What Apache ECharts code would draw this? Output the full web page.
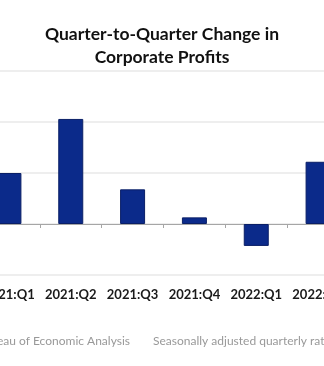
<!DOCTYPE html>
<html>
<head>
<meta charset="utf-8">
<script src="https://cdn.jsdelivr.net/npm/echarts@6/dist/echarts.min.js"></script>
<style>
html,body{margin:0;padding:0;background:#fff;}
#chart{width:324px;height:366px;}
</style>
</head>
<body>
<div id="chart"></div>
<script>
var categories = ['2021:Q1', '2021:Q2', '2021:Q3', '2021:Q4', '2022:Q1', '2022:Q2'];
var changeValues = [5.0, 10.3, 3.4, 0.65, -2.15, 6.1];
var yTicks = [-5, 0, 5, 10, 15];
var titleLines = ['Quarter-to-Quarter Change in', 'Corporate Profits'];
var sourceText = 'Source: U.S. Bureau of Economic Analysis';
var noteText = 'Seasonally adjusted quarterly rates';

var chart = echarts.init(document.getElementById('chart'));
var font = 'Lato, "Open Sans", sans-serif';
chart.setOption({
  animation: false,
  backgroundColor: '#fff',
  grid: { left: -22, right: -25, top: 71, bottom: 91, containLabel: false, outerBoundsMode: 'none' },
  xAxis: [{
    type: 'category',
    data: categories,
    boundaryGap: true,
    axisLine: { onZero: true, lineStyle: { color: '#a6a6a6', width: 1 } },
    axisTick: { show: true, length: 4, lineStyle: { color: '#a6a6a6' } },
    axisLabel: { show: false }
  }, {
    type: 'category',
    data: categories,
    position: 'bottom',
    axisLine: { show: false, onZero: false },
    axisTick: { show: false },
    axisLabel: { show: true, interval: 0, margin: 13, color: '#1a1a1a', fontWeight: 'bold', fontSize: 13, fontFamily: font }
  }],
  yAxis: {
    type: 'value',
    min: yTicks[0],
    max: yTicks[yTicks.length - 1],
    interval: 5,
    axisLine: { show: false },
    axisTick: { show: false },
    axisLabel: { show: false },
    splitLine: { lineStyle: { color: '#e8e8e8', width: 1.5 } }
  },
  series: [{
    type: 'bar',
    data: changeValues,
    xAxisIndex: 0,
    barWidth: 25,
    itemStyle: { color: '#0b2a8a', borderColor: '#0a1f66', borderWidth: 1 }
  }],
  graphic: [
    { type: 'text', left: 'center', top: 25, style: { text: titleLines[0], font: 'bold 17.5px ' + font, fill: '#111', textAlign: 'center' } },
    { type: 'text', left: 'center', top: 48, style: { text: titleLines[1], font: 'bold 17.5px ' + font, fill: '#111', textAlign: 'center' } },
    { type: 'text', right: 194, top: 335, style: { text: sourceText, font: '12px ' + font, fill: '#999' } },
    { type: 'text', left: 153, top: 335, style: { text: noteText, font: '12px ' + font, fill: '#999' } }
  ]
});
</script>
</body>
</html>
